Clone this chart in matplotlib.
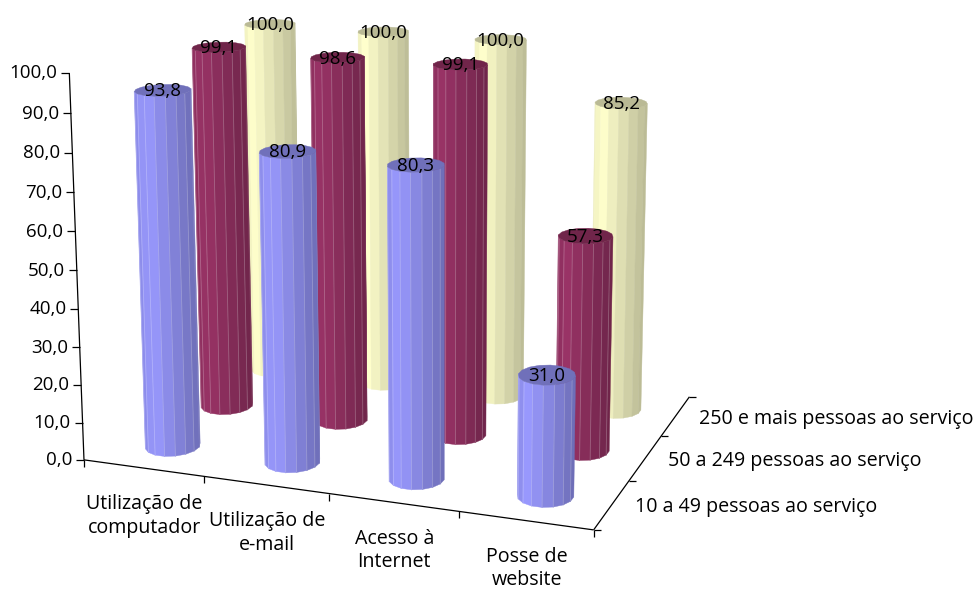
import numpy as np
import matplotlib
matplotlib.use("Agg")
import matplotlib.pyplot as plt
from matplotlib.colors import to_rgb

plt.rcParams['font.family'] = ['Open Sans', 'DejaVu Sans']

categories = ["Utilização de\ncomputador", "Utilização de\ne-mail", "Acesso à\nInternet", "Posse de\nwebsite"]
series_names = ["10 a 49 pessoas ao serviço", "50 a 249 pessoas ao serviço", "250 e mais pessoas ao serviço"]
small_firms = [93.8, 80.9, 80.3, 31.0]
medium_firms = [99.1, 98.6, 99.1, 57.3]
large_firms = [100.0, 100.0, 100.0, 85.2]
series_values = [small_firms, medium_firms, large_firms]
series_colors = ["#9999FF", "#993366", "#FFFFCC"]
value_ticks = [0, 10, 20, 30, 40, 50, 60, 70, 80, 90, 100]

# Perspective camera: (category, series, value / 100, 1) -> homogeneous canvas position / 1000
CAMERA = np.array([
    [0.1165009633149685, 0.06775564107686206, -0.017380391306471756, 0.08397964338514634],
    [0.00776419578163026, -0.019131294322863215, -0.38978488196551575, 0.4598748610429882],
    [-0.018384496903892364, 0.055373209309173645, -0.03940555069989754, 1.0],
])


def project(x, y, z):
    h = CAMERA @ np.array([x, y, z / 100.0, 1.0])
    return np.array([h[0] / h[2] * 1000, h[1] / h[2] * 1000])


def decimal_label(v):
    return f"{v:.1f}".replace(".", ",")


fig = plt.figure(figsize=(9.73, 5.90), dpi=100)
ax = fig.add_axes([0, 0, 1, 1])
ax.set_xlim(0, 973)
ax.set_ylim(590, 0)
ax.axis("off")

LINE = dict(color="black", lw=0.9, solid_capstyle="butt")
FS_TEXT = 14.1
FS_NUM = 13.5


def segment(a, b):
    ax.plot([a[0], b[0]], [a[1], b[1]], **LINE)


# axis frame and ticks
segment(project(0, 0, 0), project(0, 0, 100))
segment(project(0, 0, 0), project(4, 0, 0))
segment(project(4, 0, 0), project(4, 3, 0))
for v in value_ticks:
    p = project(0, 0, v)
    segment(p, p + (-8, 0))
    ax.text(p[0] - 12, p[1] + 0.5, decimal_label(v), ha="right", va="center", fontsize=FS_NUM)
for i in range(5):
    p = project(i, 0, 0)
    segment(p, p + (0, 7))
for j in range(4):
    p = project(4, j, 0)
    segment(p, p + (7, 0))
for i, name in enumerate(categories):
    p = project(i + 0.5, 0, 0)
    ax.text(p[0] + 1, p[1] + 48, name, ha="center", va="center", fontsize=FS_TEXT, linespacing=1.25)
for j, name in enumerate(series_names):
    p = project(4, j + 0.5, 0)
    ax.text(p[0] + 23, p[1] + 3, name, ha="left", va="center", fontsize=FS_TEXT)

N_SIDES = 16
RX, RY = 0.205, 0.23


def facet_shade(nx):
    # brightest just left of centre, falling steadily towards the right edge
    return np.interp(nx, [-1.0, -0.65, 1.0], [0.92, 1.0, 0.72])


def cylinder(cx, cy, value, color, stripes):
    rgb = np.array(to_rgb(color))
    angles = np.linspace(0, 2 * np.pi, N_SIDES + 1) + np.pi / N_SIDES
    bx = cx + RX * np.cos(angles)
    by = cy + RY * np.sin(angles)
    for k in range(N_SIDES):
        quad = np.array([project(bx[k], by[k], 0), project(bx[k + 1], by[k + 1], 0),
                         project(bx[k + 1], by[k + 1], value), project(bx[k], by[k], value)])
        e1, e2 = quad[1] - quad[0], quad[3] - quad[0]
        if e1[0] * e2[1] - e1[1] * e2[0] >= 0:
            continue
        left, right = quad[[0, 3], 0].mean(), quad[[1, 2], 0].mean()
        centre = project(cx, cy, value / 2)[0]
        half = 27.0
        shade = rgb * facet_shade(np.clip(((left + right) / 2 - centre) / half, -1, 1))
        ax.fill(quad[:, 0], quad[:, 1], facecolor=shade, edgecolor=shade, lw=0.3, zorder=3)
        if stripes:
            edge = shade + (1 - shade) * 0.25
            ax.plot(quad[[0, 3], 0], quad[[0, 3], 1], color=edge, lw=0.6, zorder=3)
    cap = np.array([project(bx[k], by[k], value) for k in range(N_SIDES)])
    ax.fill(cap[:, 0], cap[:, 1], facecolor=rgb * 0.73, edgecolor=rgb * 0.73, lw=0.3, zorder=3)


# rows are painted from the back of the floor to the front
for j in range(2, -1, -1):
    for i, v in enumerate(series_values[j]):
        cylinder(i + 0.5, j + 0.5, v, series_colors[j], stripes=j < 2)
for j, values in enumerate(series_values):
    for i, v in enumerate(values):
        p = project(i + 0.5, j + 0.5, v)
        ax.text(p[0], p[1] + 1, decimal_label(v), ha="center", va="center", fontsize=FS_NUM, zorder=5)

fig.savefig("out.png", dpi=100)
